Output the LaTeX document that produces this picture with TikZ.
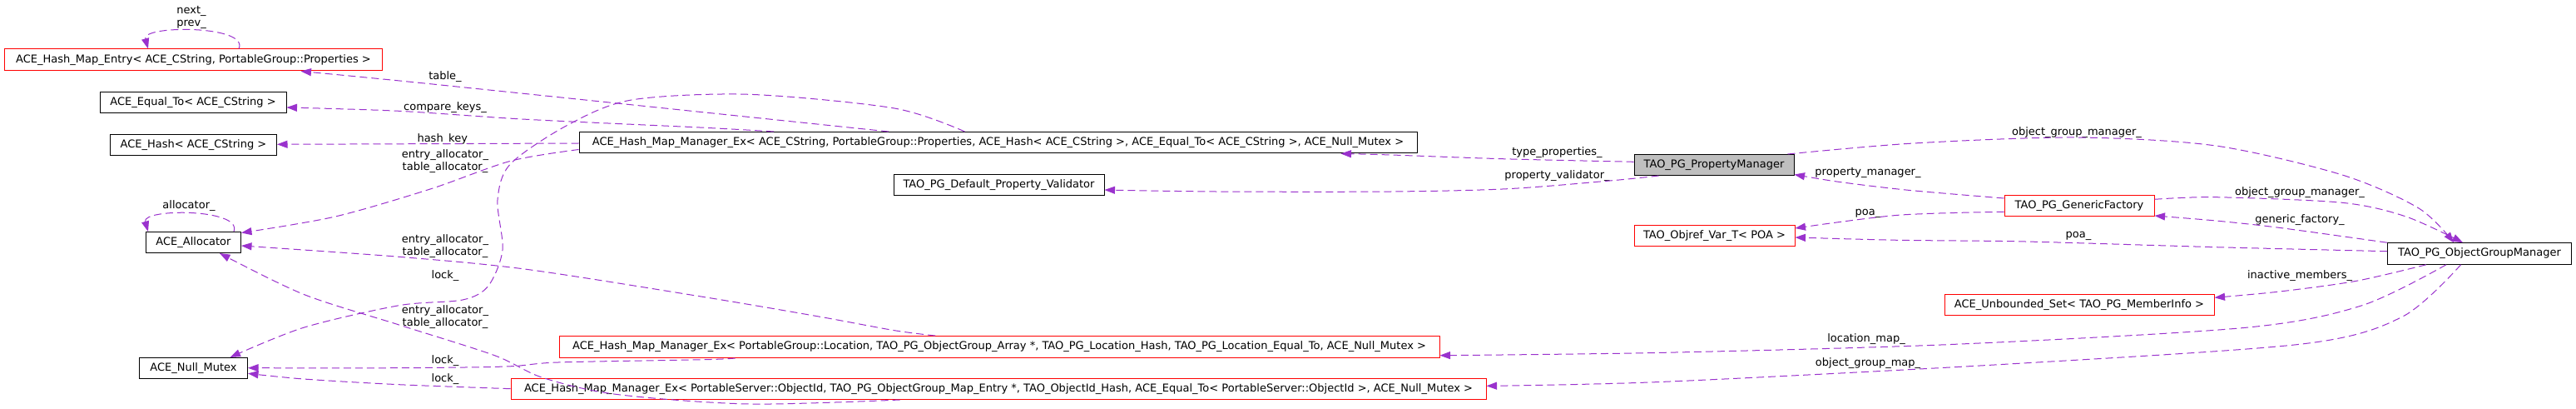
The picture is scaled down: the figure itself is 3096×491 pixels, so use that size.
\documentclass[tikz,border=0pt]{standalone}
\usepackage{fontspec}
\setmainfont{DejaVu Sans}
\usetikzlibrary{arrows.meta,calc}
\definecolor{edgec}{HTML}{9A32CD}
\definecolor{boxred}{HTML}{FF0000}
\definecolor{boxgrey}{HTML}{BFBFBF}
\begin{document}
\begin{tikzpicture}[x=1bp,y=-1bp,
  cls/.style={draw=black, line width=1bp, inner sep=0pt, font=\fontsize{13bp}{15bp}\selectfont},
  redcls/.style={cls, draw=boxred},
  focus/.style={cls, fill=boxgrey},
  use/.style={draw=edgec, line width=1bp, dash pattern=on 9bp off 5bp, -{Triangle[length=12.5bp,width=9bp,fill=edgec]}},
  lbl/.style={inner sep=0pt, font=\fontsize{13bp}{15bp}\selectfont, align=center},
]
\fill[white] (0,0) rectangle (3096,491);
\useasboundingbox (0,0) rectangle (3096,491);

% ---- nodes ----
\node[redcls, minimum width=453bp, minimum height=26bp] (entry) at (232.5,72) {ACE\_Hash\_Map\_Entry< ACE\_CString, PortableGroup::Properties >};
\node[cls, minimum width=224bp, minimum height=24.5bp] (equal) at (232,123) {ACE\_Equal\_To< ACE\_CString >};
\node[cls, minimum width=200bp, minimum height=24.5bp] (hash) at (232.5,174) {ACE\_Hash< ACE\_CString >};
\node[cls, minimum width=114bp, minimum height=25bp] (alloc) at (232.5,291) {ACE\_Allocator};
\node[cls, minimum width=130bp, minimum height=25bp] (mutex) at (232.5,442) {ACE\_Null\_Mutex};
\node[cls, minimum width=1007bp, minimum height=25bp] (hmm) at (1199.5,171) {ACE\_Hash\_Map\_Manager\_Ex< ACE\_CString, PortableGroup::Properties, ACE\_Hash< ACE\_CString >, ACE\_Equal\_To< ACE\_CString >, ACE\_Null\_Mutex >};
\node[cls, minimum width=253bp, minimum height=25bp] (valid) at (1200.5,222) {TAO\_PG\_Default\_Property\_Validator};
\node[redcls, minimum width=1058bp, minimum height=26bp] (locmap) at (1201,416.5) {ACE\_Hash\_Map\_Manager\_Ex< PortableGroup::Location, TAO\_PG\_ObjectGroup\_Array *, TAO\_PG\_Location\_Hash, TAO\_PG\_Location\_Equal\_To, ACE\_Null\_Mutex >};
\node[redcls, minimum width=1172bp, minimum height=25bp] (ogmap) at (1200,467) {ACE\_Hash\_Map\_Manager\_Ex< PortableServer::ObjectId, TAO\_PG\_ObjectGroup\_Map\_Entry *, TAO\_ObjectId\_Hash, ACE\_Equal\_To< PortableServer::ObjectId >, ACE\_Null\_Mutex >};
\node[focus, minimum width=192bp, minimum height=25bp] (propmgr) at (2060,198) {TAO\_PG\_PropertyManager};
\node[redcls, minimum width=180bp, minimum height=25bp] (genfac) at (2499,247) {TAO\_PG\_GenericFactory};
\node[redcls, minimum width=193bp, minimum height=25bp] (objref) at (2060.5,283) {TAO\_Objref\_Var\_T< POA >};
\node[redcls, minimum width=324bp, minimum height=25bp] (unbset) at (2499,366) {ACE\_Unbounded\_Set< TAO\_PG\_MemberInfo >};
\node[cls, minimum width=221bp, minimum height=25.5bp] (ogmgr) at (2980,304.5) {TAO\_PG\_ObjectGroupManager};

% ---- labels ----
\node[lbl] (lnp) at (230,20.5) {next\_\\prev\_};
\node[lbl] (lal) at (227,247) {allocator\_};
\node[lbl] (ltab) at (535,92) {table\_};
\node[lbl] (lcmp) at (535,129) {compare\_keys\_};
\node[lbl] (lhk) at (535,167) {hash\_key\_};
\node[lbl] (lea1) at (535,194) {entry\_allocator\_\\table\_allocator\_};
\node[lbl] (lea2) at (535,295.5) {entry\_allocator\_\\table\_allocator\_};
\node[lbl] (llk1) at (535,331) {lock\_};
\node[lbl] (lea3) at (535,380.5) {entry\_allocator\_\\table\_allocator\_};
\node[lbl] (llk2) at (535,433) {lock\_};
\node[lbl] (llk3) at (535,455) {lock\_};
\node[lbl] (ltp) at (1871.5,183.3) {type\_properties\_};
\node[lbl] (lpv) at (1871.5,211) {property\_validator\_};
\node[lbl] (logm1) at (2496,159.3) {object\_group\_manager\_};
\node[lbl] (lpm) at (2245,207.3) {property\_manager\_};
\node[lbl] (logm2) at (2764,231) {object\_group\_manager\_};
\node[lbl] (lpoa1) at (2245,256.7) {poa\_};
\node[lbl] (lgf) at (2764,264) {generic\_factory\_};
\node[lbl] (lpoa2) at (2498,283.3) {poa\_};
\node[lbl] (lim) at (2764,330.7) {inactive\_members\_};
\node[lbl] (llm) at (2243,406.7) {location\_map\_};
\node[lbl] (logmap) at (2245,436) {object\_group\_map\_};

% ---- edge end points ----
\coordinate (e1s) at ($(entry.north)+(54.5,0)$);
\coordinate (e1t) at ($(entry.north)+(-54.5,0)$);
\coordinate (e2s) at ($(alloc.north)+(48.5,0)$);
\coordinate (e2t) at ($(alloc.north)+(-54.5,0)$);
\coordinate (e3s) at ($(hmm.north)+(-131.5,0)$);
\coordinate (e3t) at ($(entry.south)+(129,0)$);
\coordinate (e4s) at ($(hmm.north)+(-269.5,0)$);
\coordinate (e4t) at ($(equal.east)+(0,6)$);
\coordinate (e5s) at ($(hmm.west)+(0,1)$);
\coordinate (e5t) at ($(hash.east)+(0,-0.7)$);
\coordinate (e6s) at ($(hmm.south west)+(0,-4.5)$);
\coordinate (e6t) at ($(alloc.north east)+(0,1.5)$);
\coordinate (e7s) at ($(locmap.north west)+(452.5,0)$);
\coordinate (e7t) at ($(alloc.east)+(0,4)$);
\coordinate (e8s) at ($(ogmap.south west)+(468,0)$);
\coordinate (e8t) at ($(alloc.south)+(31.5,0)$);
\coordinate (e9s) at ($(hmm.north west)+(464,0)$);
\coordinate (e9t) at ($(mutex.north east)+(-21.5,0)$);
\coordinate (e10s) at ($(locmap.south west)+(212,0)$);
\coordinate (e10t) at ($(mutex.east)+(0,-0.3)$);
\coordinate (e11s) at ($(ogmap.west)+(0,-0.3)$);
\coordinate (e11t) at ($(mutex.east)+(0,6.3)$);
\coordinate (e12s) at ($(propmgr.west)+(0,-3.7)$);
\coordinate (e12t) at ($(hmm.south east)+(-92,0.5)$);
\coordinate (e13s) at ($(propmgr.south west)+(30,0)$);
\coordinate (e13t) at ($(valid.east)+(0,6)$);
\coordinate (e14s) at ($(propmgr.north east)+(-8,0)$);
\coordinate (e14t) at ($(ogmgr.north)+(-31,0)$);
\coordinate (e15s) at ($(genfac.east)+(0,-7.7)$);
\coordinate (e15t) at ($(ogmgr.north)+(-20,0)$);
\coordinate (e16s) at ($(genfac.west)+(0,-9)$);
\coordinate (e16t) at ($(propmgr.south east)+(0,-1.5)$);
\coordinate (e17s) at ($(genfac.west)+(0,7.3)$);
\coordinate (e17t) at ($(objref.east)+(0,-9)$);
\coordinate (e18s) at (ogmgr.north west);
\coordinate (e18t) at ($(genfac.south east)+(0,-1)$);
\coordinate (e19s) at ($(ogmgr.west)+(0,-2.8)$);
\coordinate (e19t) at ($(objref.east)+(0,2)$);
\coordinate (e20s) at ($(ogmgr.south)+(-64,0)$);
\coordinate (e20t) at ($(unbset.east)+(0,-8.7)$);
\coordinate (e21s) at ($(ogmgr.south)+(-40,0)$);
\coordinate (e21t) at ($(locmap.east)+(0,10.2)$);
\coordinate (e22s) at ($(ogmgr.south)+(-22.4,0)$);
\coordinate (e22t) at ($(ogmap.east)+(0,-3.7)$);

% ---- edges ----
\draw[use] (e1s) .. controls (300,30) and (170,30) .. (e1t);
\draw[use] (e2s) .. controls (292,250) and (170,250) .. (e2t);
\draw[use] plot[smooth] coordinates {(e3s) (895.5,140) (510,100) (e3t)};
\draw[use] plot[smooth] coordinates {(e4s) (847,153.3) (632.7,143.3) (479.6,133.3) (e4t)};
\draw[use] (e5s) -- (e5t);
\draw[use] plot[smooth] coordinates {(e6s) (613.6,193.3) (518,226.7) (403,260) (e6t)};
\draw[use] plot[smooth] coordinates {(e7s) (1075,396.7) (984,380) (847,356.7) (632.7,323.3) (479.6,308.3) (e7t)};
\draw[use] plot[smooth] coordinates {(e8s) (900,485) (740,473.3) (652,453.3) (594.4,426.7) (479.6,390) (364.8,353.3) (e8t)};
\draw[use] plot[smooth] coordinates {(e9s) (1075,130) (900,113.3) (759,120) (682.5,150) (613.6,196.7) (598,240) (604,300) (586.8,343.3) (556,360) (479.6,366.7) (364.8,393.3) (e9t)};
\draw[use] plot[smooth] coordinates {(e10s) (847,431.7) (671,435) (608.5,440) (479.6,441.7) (e10t)};
\draw[use] plot[smooth] coordinates {(e11s) (479.6,461.7) (364.8,455) (e11t)};
\draw[use] plot[smooth] coordinates {(e12s) (1805,190.7) (1672,186) (e12t)};
\draw[use] plot[smooth] coordinates {(e13s) (1938,216.7) (1812,226.7) (1672,230) (1461,230) (e13t)};
\draw[use] plot[smooth] coordinates {(e14s) (2300,172) (2495,165) (2663,175) (2815,210) (2907,250) (e14t)};
\draw[use] plot[smooth] coordinates {(e15s) (2663,236.7) (2815,243.3) (2891.6,260) (e15t)};
\draw[use] plot[smooth] coordinates {(e16s) (2293.6,228.3) (2209.7,218.3) (e16t)};
\draw[use] plot[smooth] coordinates {(e17s) (2281,258.3) (e17t)};
\draw[use] plot[smooth] coordinates {(e18s) (2739,273.3) (2663,265) (e18t)};
\draw[use] plot[smooth] coordinates {(e19s) (2663,296.7) (2434,290) (2281,288.3) (e19t)};
\draw[use] plot[smooth] coordinates {(e20s) (2832,337.3) (2740,350) (e20t)};
\draw[use] plot[smooth] coordinates {(e21s) (2838.8,366.7) (2699,393.3) (2349.5,413.3) (2000,423.3) (e21t)};
\draw[use] plot[smooth] coordinates {(e22s) (2887.7,380) (2769,412.7) (2419.4,436.7) (2000,458.3) (e22t)};
\end{tikzpicture}
\end{document}
